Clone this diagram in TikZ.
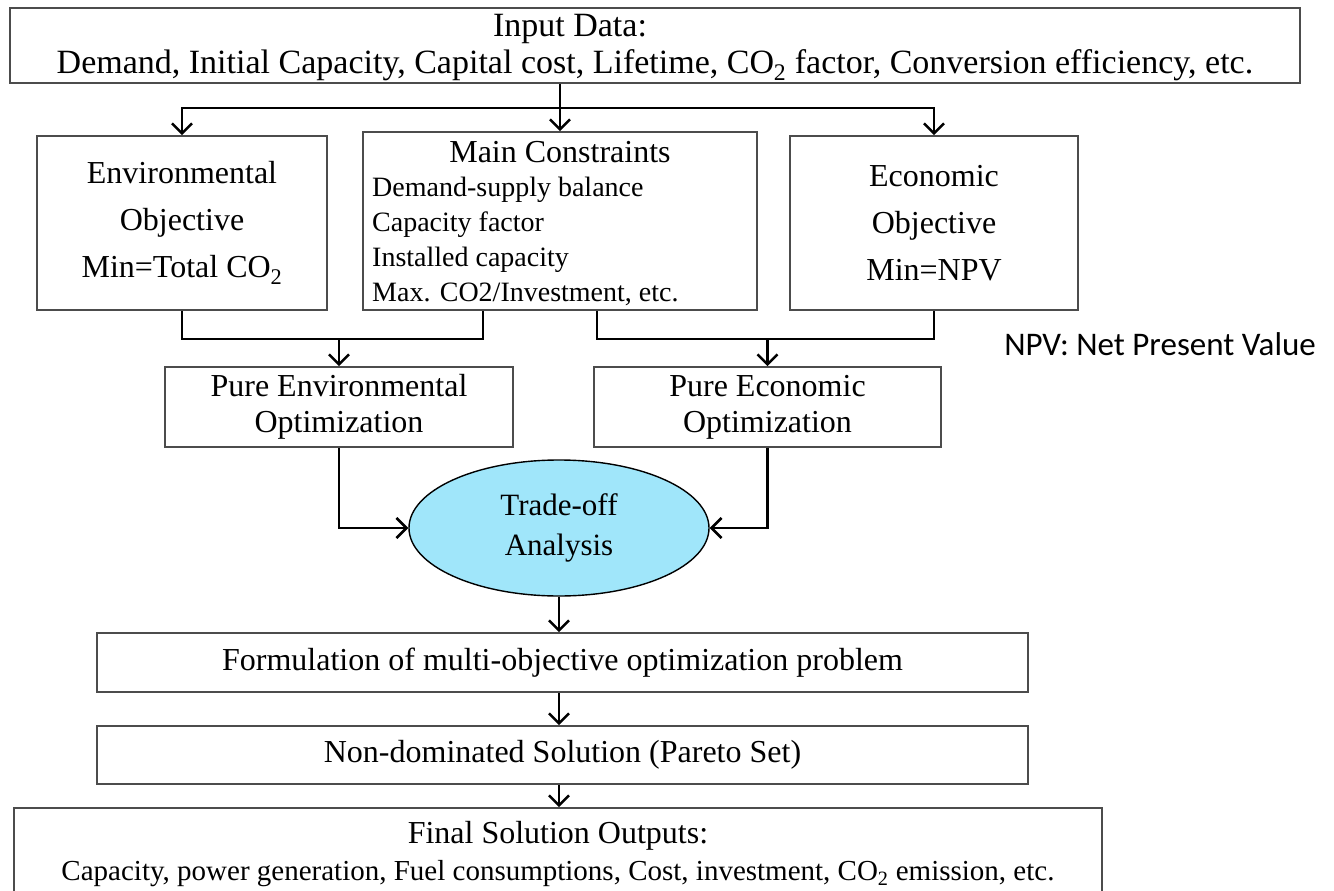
\documentclass[tikz,border=0pt]{standalone}
\usepackage{fontspec}
\setmainfont{Liberation Serif}
\newfontfamily\notefont{Carlito}
\usetikzlibrary{arrows.meta,shapes.geometric}
\colorlet{boxgray}{black!70}
\definecolor{tradeblue}{RGB}{160,230,250}

\begin{document}
\begin{tikzpicture}[x=1pt,y=-1pt]
\useasboundingbox (0,0) rectangle (1334,891);
\tikzset{BoxStyle/.style ={draw=boxgray, line width=1.6pt, inner sep=0pt, align=center, font=\fontsize{32}{47}\selectfont}}
\tikzset{TextStyle/.style ={inner sep=0pt, font=\fontsize{32}{36}\selectfont}}
\tikzset{ArrowStyle/.style ={-{Straight Barb[length=10pt,width=20pt]}, line width=2.6pt}}
\tikzset{LineStyle/.style ={line width=2.6pt}}
% input
\node[BoxStyle, minimum width=1290, minimum height=75] (input) at (655,45.5) {};
\node[TextStyle, font=\fontsize{34}{38}\selectfont] (inputhead) at (570,29) {Input Data:};
\node[TextStyle, font=\fontsize{34}{38}\selectfont] (inputlist) at (655,65) {Demand, Initial Capacity, Capital cost, Lifetime, CO\textsubscript{2} factor, Conversion efficiency, etc.};
% objectives and constraints
\node[BoxStyle, minimum width=290, minimum height=174] (env) at (182,223) {Environmental\\Objective\\Min=Total CO\textsubscript{2}};
\node[BoxStyle, minimum width=394, minimum height=178] (cons) at (560,221) {};
\node[TextStyle] (conshead) at (560,152) {Main Constraints};
\node[inner sep=0pt, anchor=west, align=left, font=\fontsize{28}{35}\selectfont] (conslist) at (372,241)
  {Demand-supply balance\\Capacity factor\\Installed capacity\\Max. CO2/Investment, etc.};
\node[BoxStyle, minimum width=288, minimum height=174] (econ) at (934,223) {Economic\\Objective\\Min=NPV};
\node[inner sep=0pt, font=\notefont\fontsize{33}{36}\selectfont] (npvnote) at (1160,344) {NPV: Net Present Value};
% pure optimizations
\node[BoxStyle, minimum width=348, minimum height=80, font=\fontsize{32}{36}\selectfont] (pureenv) at (339,407) {Pure Environmental\\Optimization};
\node[BoxStyle, minimum width=347, minimum height=80, font=\fontsize{32}{36}\selectfont] (pureecon) at (767.5,407) {Pure Economic\\Optimization};
\node[ellipse, draw=black, fill=tradeblue, line width=1.4pt, minimum width=300, minimum height=136, inner sep=0pt, align=center, font=\fontsize{31}{40}\selectfont] (trade) at (559,528) {Trade-off\\Analysis};
% results
\node[BoxStyle, minimum width=931, minimum height=59] (formul) at (562.5,662.5) {Formulation of multi-objective optimization problem};
\node[BoxStyle, minimum width=931, minimum height=58] (nondom) at (562.5,755) {Non-dominated Solution (Pareto Set)};
\node[BoxStyle, minimum width=1088, minimum height=92, font=\fontsize{32}{37}\selectfont] (final) at (558,854)
  {Final Solution Outputs:\\\fontsize{29}{37}\selectfont Capacity, power generation, Fuel consumptions, Cost, investment, CO\textsubscript{2} emission, etc.};
% connectors
\coordinate (branch) at (560,108);
\coordinate (joinL) at (339,339);
\coordinate (joinR) at (767.5,339);
\draw[ArrowStyle] (input.south -| cons.north) -- (cons.north);
\draw[ArrowStyle] (branch) -| (env.north);
\draw[ArrowStyle] (branch) -| (econ.north);
\draw[LineStyle] (env.south) |- (joinL) -| ([xshift=-77pt]cons.south);
\draw[LineStyle] ([xshift=37pt]cons.south) |- (joinR) -| (econ.south);
\draw[ArrowStyle] (joinL) -- (pureenv.north);
\draw[ArrowStyle] (joinR) -- (pureecon.north);
\draw[ArrowStyle] (pureenv.south) |- (trade.west);
\draw[ArrowStyle] (pureecon.south) |- (trade.east);
\draw[ArrowStyle] (trade.south) -- (trade.south |- formul.north);
\draw[ArrowStyle] (trade.south |- formul.south) -- (trade.south |- nondom.north);
\draw[ArrowStyle] (trade.south |- nondom.south) -- (trade.south |- final.north);
\end{tikzpicture}
\end{document}
